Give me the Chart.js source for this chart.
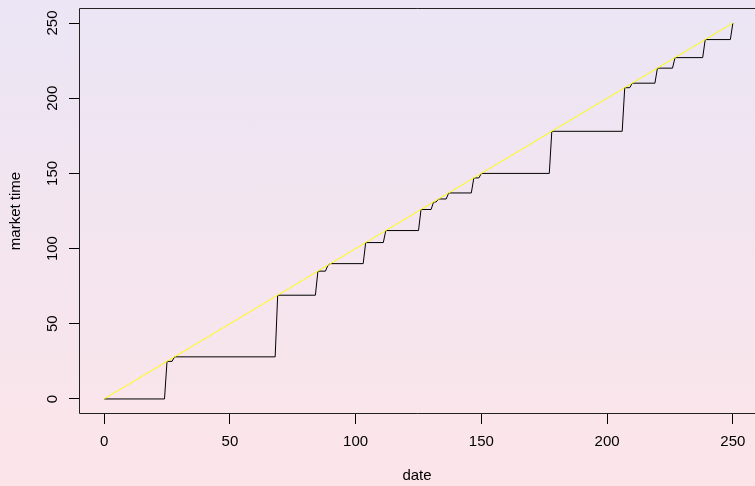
<!DOCTYPE html>
<html>
<head>
<meta charset="utf-8">
<script src="https://cdn.jsdelivr.net/npm/chart.js@4"></script>
<style>
html, body { margin: 0; padding: 0; overflow: hidden; }
body { width: 755px; height: 486px; background: linear-gradient(to bottom, #ebe5f5, #fce5e9); }
canvas { display: block; }
</style>
</head>
<body>
<canvas id="chart" width="755" height="486"></canvas>
<script>
// step points of market time against date (only where the slope changes)
const dates      = [0, 24, 25, 27, 28, 68, 69, 84, 85, 88, 89, 90, 103, 104, 111, 112, 125, 126, 130, 131, 132, 133, 136, 137, 146, 147, 149, 150, 177, 178, 206, 207, 209, 210, 219, 220, 226, 227, 238, 239, 249, 250];
const marketTime = [0, 0, 25, 25, 28, 28, 69, 69, 85, 85, 89, 90, 90, 104, 104, 112, 112, 126, 126, 131, 131, 133, 133, 137, 137, 147, 147, 150, 150, 178, 178, 207, 207, 210, 210, 220, 220, 227, 227, 239, 239, 250];

// diagonal reference line y = x
const diagX = [0, 250];
const diagY = [0, 250];

const xTicks = [0, 50, 100, 150, 200, 250];
const yTicks = [0, 50, 100, 150, 200, 250];

Chart.defaults.font.family = '"Liberation Sans", Arial, sans-serif';
Chart.defaults.font.size = 15;
Chart.defaults.color = '#000';

// box round the plot region (its right side falls outside the picture)
const boxPlugin = {
    id: 'box',
    afterDraw(chart) {
        const a = chart.chartArea;
        const c = chart.ctx;
        c.save();
        c.strokeStyle = '#222';
        c.lineWidth = 1;
        c.beginPath();
        c.moveTo(a.right, a.top + 0.5);
        c.lineTo(a.left + 0.5, a.top + 0.5);
        c.lineTo(a.left + 0.5, a.bottom - 0.5);
        c.lineTo(a.right, a.bottom - 0.5);
        c.stroke();
        c.restore();
    }
};

new Chart(document.getElementById('chart'), {
    type: 'scatter',
    data: {
        datasets: [{
            label: 'y = x',
            data: diagX.map((x, i) => ({ x: x, y: diagY[i] })),
            showLine: true,
            borderColor: '#ffff00',
            borderWidth: 1,
            pointRadius: 0
        }, {
            label: 'market time',
            data: dates.map((d, i) => ({ x: d, y: marketTime[i] })),
            showLine: true,
            borderColor: '#000',
            borderWidth: 1,
            pointRadius: 0
        }]
    },
    options: {
        responsive: false,
        animation: false,
        layout: { padding: { top: 8, right: 0, left: 0, bottom: 0 } },
        plugins: {
            legend: { display: false },
            tooltip: { enabled: false }
        },
        scales: {
            x: {
                type: 'linear',
                min: -10,
                max: 258.8,
                afterBuildTicks: s => { s.ticks = xTicks.map(v => ({ value: v })); },
                afterFit: s => { s.height = 72; s.paddingLeft = 0; s.paddingRight = 0; },
                border: { display: false },
                grid: { drawOnChartArea: false, tickLength: 10, tickColor: '#000' },
                ticks: { padding: 9, maxRotation: 0 },
                title: { display: true, text: 'date', padding: { top: 0, bottom: 1 } }
            },
            y: {
                type: 'linear',
                min: -10,
                max: 260,
                afterBuildTicks: s => { s.ticks = yTicks.map(v => ({ value: v })); },
                afterFit: s => { s.width = 79; s.paddingTop = 0; s.paddingBottom = 0; },
                border: { display: false },
                grid: { drawOnChartArea: false, tickLength: 10, tickColor: '#000' },
                ticks: { padding: 3.5, minRotation: 90, maxRotation: 90, crossAlign: 'center' },
                title: { display: true, text: 'market time', padding: { top: 7, bottom: 0 } }
            }
        }
    },
    plugins: [boxPlugin]
});
</script>
</body>
</html>
